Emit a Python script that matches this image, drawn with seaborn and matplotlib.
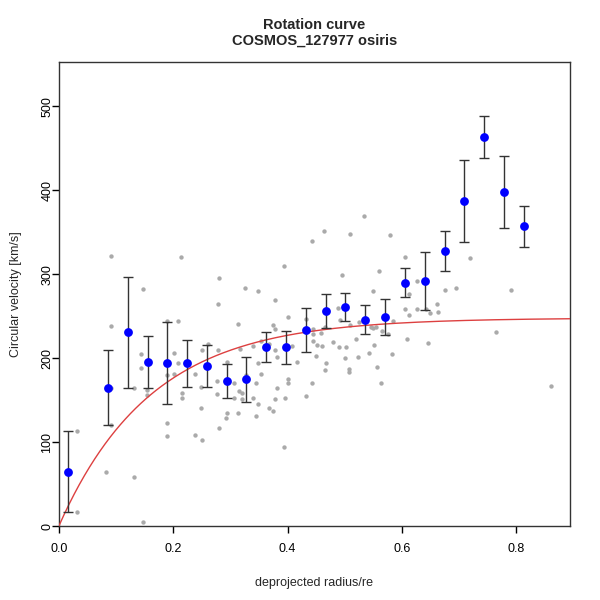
import numpy as np
import pandas as pd
import seaborn as sns
import matplotlib.pyplot as plt

# binned rotation curve (blue points with error bars)
r_bin = [0.016, 0.086, 0.121, 0.156, 0.190, 0.225, 0.260, 0.294, 0.328, 0.363, 0.398,
         0.432, 0.467, 0.501, 0.536, 0.571, 0.605, 0.640, 0.675, 0.709, 0.744, 0.778, 0.813]
v_bin = [65, 165, 231, 196, 194, 194, 191, 173, 175, 213, 213,
         234, 256, 261, 246, 249, 290, 292, 328, 387, 463, 398, 357]
v_err = [48, 45, 66, 31, 49, 28, 25, 20, 27, 18, 20,
         26, 20, 17, 17, 21, 17, 34, 24, 49, 25, 43, 24]

# individual spaxel measurements (grey points)
r_pix = [0.031, 0.031, 0.083, 0.092, 0.092, 0.092, 0.092, 0.132, 0.132, 0.144,
         0.144, 0.148, 0.148, 0.154, 0.154, 0.189, 0.189, 0.189, 0.189, 0.201,
         0.201, 0.209, 0.209, 0.214, 0.215, 0.215, 0.238, 0.238, 0.248, 0.248,
         0.250, 0.250, 0.261, 0.278, 0.278, 0.277, 0.277, 0.280, 0.280, 0.294,
         0.294, 0.292, 0.307, 0.307, 0.313, 0.313, 0.316, 0.321, 0.321, 0.317,
         0.326, 0.339, 0.339, 0.344, 0.344, 0.348, 0.348, 0.348, 0.354, 0.354,
         0.368, 0.368, 0.374, 0.374, 0.378, 0.378, 0.378, 0.381, 0.381, 0.378,
         0.394, 0.394, 0.396, 0.401, 0.401, 0.401, 0.408, 0.416, 0.432, 0.433,
         0.443, 0.443, 0.444, 0.444, 0.445, 0.450, 0.452, 0.459, 0.461, 0.464,
         0.465, 0.465, 0.467, 0.479, 0.489, 0.492, 0.490, 0.495, 0.501, 0.503,
         0.507, 0.508, 0.510, 0.510, 0.520, 0.524, 0.525, 0.534, 0.543, 0.546,
         0.550, 0.555, 0.549, 0.552, 0.556, 0.560, 0.564, 0.565, 0.575, 0.579,
         0.583, 0.584, 0.605, 0.605, 0.609, 0.612, 0.612, 0.626, 0.627, 0.643,
         0.646, 0.649, 0.661, 0.663, 0.676, 0.695, 0.719, 0.764, 0.790, 0.861,
         0.327]
v_pix = [113, 17, 65, 322, 238, 165, 121, 164, 58, 205,
         188, 282, 5, 162, 156, 244, 180, 123, 108, 206,
         181, 244, 194, 320, 159, 153, 181, 109, 166, 141,
         210, 103, 217, 265, 210, 173, 157, 295, 117, 196,
         135, 129, 171, 153, 135, 241, 161, 159, 151, 211,
         284, 215, 153, 170, 131, 280, 194, 146, 220, 181,
         217, 141, 137, 240, 235, 269, 210, 201, 164, 152,
         310, 94, 153, 249, 175, 170, 215, 196, 247, 155,
         340, 170, 235, 229, 221, 203, 216, 230, 215, 351,
         237, 186, 194, 219, 260, 246, 213, 299, 200, 213,
         184, 187, 348, 239, 223, 201, 243, 369, 206, 237,
         236, 237, 280, 216, 190, 304, 170, 232, 229, 347,
         205, 244, 320, 259, 223, 251, 276, 259, 292, 259,
         218, 254, 264, 255, 281, 284, 319, 231, 281, 167,
         180]

# fitted model: exponential-disc-like rising curve
v_max = 248
r_t = 0.161
r_max = 0.894

sns.set_style("ticks")
plt.rcParams['font.family'] = ['Liberation Sans', 'DejaVu Sans']

pix = pd.DataFrame({'r': r_pix, 'v': v_pix})
bins = pd.DataFrame({'r': r_bin, 'v': v_bin, 'err': v_err})
r_model = np.linspace(0, r_max, 300)
model = pd.DataFrame({'r': r_model, 'v': v_max * (1 - np.exp(-r_model / r_t))})

fig = plt.figure(figsize=(6, 6), dpi=100)
ax = fig.add_axes([0.098, 0.123, 0.852, 0.774])

sns.scatterplot(data=pix, x='r', y='v', ax=ax, color='#aaaaaa', s=10, linewidth=0, zorder=2)
sns.lineplot(data=model, x='r', y='v', ax=ax, color='#dd4040', linewidth=1, zorder=3)
ax.errorbar(bins['r'], bins['v'], yerr=bins['err'], fmt='none', ecolor='#333333',
            elinewidth=1, capsize=3.6, capthick=1, zorder=4)
sns.scatterplot(data=bins, x='r', y='v', ax=ax, color='#0000ff', s=40, linewidth=0, zorder=5)

ax.set_xlim(0, r_max)
ax.set_ylim(0, 553)
ax.set_xticks([0.0, 0.2, 0.4, 0.6, 0.8])
ax.set_xticklabels(['0.0', '0.2', '0.4', '0.6', '0.8'])
ax.set_yticks([0, 100, 200, 300, 400, 500])
ax.tick_params(axis='both', direction='out', length=5, width=1, labelsize=9, colors='black')
ax.tick_params(axis='x', pad=7)
ax.tick_params(axis='y', pad=-1)
for lab in ax.get_yticklabels():
    lab.set_rotation(90)
    lab.set_va('center')
for sp in ax.spines.values():
    sp.set_visible(True)
    sp.set_color('#333333')
    sp.set_linewidth(1)

ax.set_xlabel('deprojected radius/re', fontsize=9, labelpad=16)
ax.set_ylabel('Circular velocity [km/s]', fontsize=9, labelpad=14)
ax.set_title('Rotation curve\nCOSMOS_127977 osiris', fontsize=10.5, fontweight='bold', pad=12)

fig.savefig('out.png', dpi=100)
